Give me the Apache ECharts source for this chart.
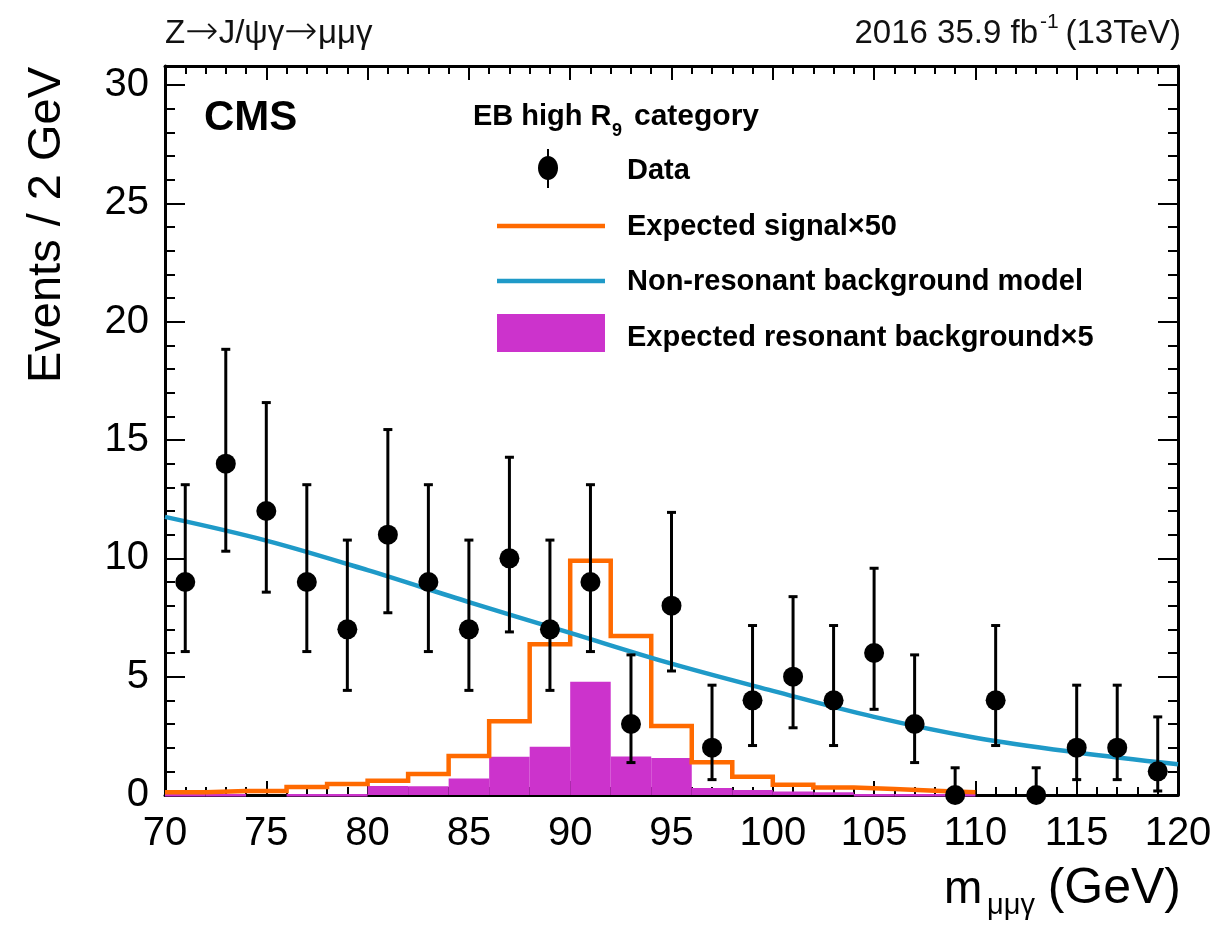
<!DOCTYPE html>
<html><head><meta charset="utf-8">
<script src="https://cdn.jsdelivr.net/npm/echarts@6/dist/echarts.min.js"></script>
<style>html,body{margin:0;padding:0;background:#fff}#c{width:1220px;height:929px}</style>
</head><body><div id="c"></div>
<script>
// ---- data ----
const binCenters = [71,73,75,77,79,81,83,85,87,89,91,93,95,97,99,101,103,105,107,109,111,113,115,117,119];
const dataCounts = [9,14,12,9,7,11,9,7,10,7,9,3,8,2,4,5,4,6,3,0,4,0,2,2,1];
const errLow  = [6.06,10.3,8.57,6.06,4.42,7.7,6.06,4.42,6.89,4.42,6.06,1.37,5.24,0.65,2.09,2.84,2.09,3.62,1.37,0,2.09,0,0.65,0.65,0.17];
const errHigh = [13.11,18.83,16.58,13.11,10.77,15.44,13.11,10.77,14.27,10.77,13.11,5.92,11.94,4.64,7.16,8.38,7.16,9.58,5.92,1.15,7.16,1.15,4.64,4.64,3.3];

const histLow  = [70,72,74,76,78,80,82,84,86,88,90,92,94,96,98,100,102,104,106,108];
const histHigh = [72,74,76,78,80,82,84,86,88,90,92,94,96,98,100,102,104,106,108,110];
const signalX50   = [0.12,0.17,0.17,0.34,0.46,0.6,0.89,1.65,3.12,6.37,9.9,6.72,2.92,1.38,0.77,0.43,0.32,0.25,0.18,0.12];
const resonantX5  = [0.02,0.02,null,0.02,0.02,0.38,0.37,0.7,1.62,2.04,4.78,1.63,1.56,0.3,0.21,0.15,0.12,0.02,0.02,0.02];

const bkgX = [70,75,80,85,90,95,100,105,110,115,120];
const bkgY = [11.75,10.75,9.5,8.15,6.85,5.55,4.4,3.3,2.42,1.8,1.3];

const xTickLabels = ['70','75','80','85','90','95','100','105','110','115','120'];
const yTickLabels = ['0','5','10','15','20','25','30'];

// ---- build ----
const FONT = '"Liberation Sans", Arial, Helvetica, sans-serif';
const ORANGE = '#ff6a00', BLUE = '#1f9ac8', MAGENTA = '#cc33cc';

const signalLine = [];
histLow.forEach((lo, i) => { signalLine.push([lo, signalX50[i]]); signalLine.push([histHigh[i], signalX50[i]]); });
const resData = histLow.map((lo, i) => [lo, histHigh[i], resonantX5[i]]).filter(d => d[2] !== null);
const errData = binCenters.map((x, i) => [x, errLow[i], errHigh[i]]);
const ptsData = binCenters.map((x, i) => [x, dataCounts[i]]);
const bkgData = bkgX.map((x, i) => [x, bkgY[i]]);

const chart = echarts.init(document.getElementById('c'), null, {renderer: 'canvas'});
const axisLineStyle = {color: '#000', width: 3};
const common = {
  type: 'value', splitLine: {show: false},
  axisLine: {show: true, onZero: false, lineStyle: axisLineStyle},
};
const tickX = {inside: true, length: 14, lineStyle: {color: '#000', width: 2}};
const minorX = {show: true, splitNumber: 5, length: 8, lineStyle: {color: '#000', width: 2}};
const tickY = {inside: true, length: 20, lineStyle: {color: '#000', width: 2}};
const minorY = {show: true, splitNumber: 5, length: 10, lineStyle: {color: '#000', width: 2}};
const LEG = 'bold 29px ' + FONT;
const TOP = '33px ' + FONT;

chart.setOption({
  animation: false,
  backgroundColor: '#fff',
  grid: {left: 165, top: 66, width: 1013, height: 729, containLabel: false},
  xAxis: [
    Object.assign({}, common, {
      position: 'bottom', min: 70, max: 120, interval: 5, axisTick: tickX, minorTick: minorX,
      axisLabel: {margin: 19, fontSize: 40, color: '#000', fontFamily: FONT,
        formatter: v => (xTickLabels.indexOf(String(v)) >= 0 ? String(v) : '')}
    }),
    Object.assign({}, common, {
      position: 'top', min: 70, max: 120, interval: 5, axisTick: tickX, minorTick: minorX,
      axisLabel: {show: false}
    })
  ],
  yAxis: [
    Object.assign({}, common, {
      position: 'left', min: 0, max: 30.8, interval: 5, axisTick: tickY, minorTick: minorY,
      axisLabel: {margin: 16, fontSize: 40, color: '#000', fontFamily: FONT, showMaxLabel: false,
        formatter: v => (yTickLabels.indexOf(String(v)) >= 0 ? String(v) : '')}
    }),
    Object.assign({}, common, {
      position: 'right', min: 0, max: 30.8, interval: 5, axisTick: tickY, minorTick: minorY,
      axisLabel: {show: false}
    })
  ],
  series: [
    {
      type: 'custom', name: 'Expected resonant background×5', data: resData, z: 2,
      renderItem: (params, api) => {
        const p1 = api.coord([api.value(0), api.value(2)]);
        const p2 = api.coord([api.value(1), 0]);
        let h = p2[1] - p1[1];
        let y = p1[1];
        if (h < 2) { y = p2[1] - 1; h = 2.5; }
        return {type: 'rect', shape: {x: p1[0], y: y, width: p2[0] - p1[0], height: h},
                style: {fill: MAGENTA}};
      },
      encode: {x: [0, 1], y: 2}
    },
    {
      type: 'line', name: 'Expected signal×50', data: signalLine, showSymbol: false, z: 3,
      lineStyle: {color: ORANGE, width: 4.5, join: 'miter'}, emphasis: {disabled: true}
    },
    {
      type: 'line', name: 'Non-resonant background model', data: bkgData, smooth: 0.35, showSymbol: false, z: 4,
      lineStyle: {color: BLUE, width: 4.5}, emphasis: {disabled: true}
    },
    {
      type: 'custom', name: 'Data errors', data: errData, z: 5, clip: false,
      renderItem: (params, api) => {
        const x = api.value(0);
        const a = api.coord([x, api.value(1)]);
        const b = api.coord([x, api.value(2)]);
        const st = {stroke: '#000', lineWidth: 3};
        return {type: 'group', children: [
          {type: 'line', shape: {x1: a[0], y1: a[1], x2: b[0], y2: b[1]}, style: st},
          {type: 'line', shape: {x1: a[0] - 4.5, y1: a[1], x2: a[0] + 4.5, y2: a[1]}, style: st},
          {type: 'line', shape: {x1: b[0] - 4.5, y1: b[1], x2: b[0] + 4.5, y2: b[1]}, style: st}
        ]};
      },
      encode: {x: 0, y: [1, 2]}
    },
    {
      type: 'scatter', name: 'Data', data: ptsData, symbol: 'circle', symbolSize: 20, z: 6, clip: false,
      itemStyle: {color: '#000', opacity: 1}, emphasis: {disabled: true}
    }
  ],
  graphic: [
    {type: 'text', x: 165, y: 34, style: {
      text: '{a|Z}{r|→}{a|J/ψγ}{r|→}{a|μμγ}', align: 'left', verticalAlign: 'middle',
      rich: {a: {font: TOP, fill: '#111'}, r: {font: '200 40px "DejaVu Sans", sans-serif', fill: '#111'}}}},
    {type: 'text', x: 1038, y: 34, style: {text: '2016 35.9 fb', font: TOP, fill: '#111', align: 'right', verticalAlign: 'middle'}},
    {type: 'text', x: 1040, y: 22, style: {text: '-1', font: '21px ' + FONT, fill: '#111', align: 'left', verticalAlign: 'middle'}},
    {type: 'text', x: 1181, y: 34, style: {text: '(13TeV)', font: TOP, fill: '#111', align: 'right', verticalAlign: 'middle'}},

    {type: 'text', x: 204, y: 118, style: {text: 'CMS', font: 'bold 42px ' + FONT, fill: '#000', verticalAlign: 'middle'}},

    {type: 'text', x: 473, y: 117, style: {text: 'EB high R', font: LEG, fill: '#000', verticalAlign: 'middle'}},
    {type: 'text', x: 612, y: 131, style: {text: '9', font: 'bold 18px ' + FONT, fill: '#000', verticalAlign: 'middle'}},
    {type: 'text', x: 634, y: 117, style: {text: 'category', font: 'bold 30px ' + FONT, fill: '#000', verticalAlign: 'middle'}},

    {type: 'line', shape: {x1: 548, y1: 149, x2: 548, y2: 188}, style: {stroke: '#000', lineWidth: 2}},
    {type: 'ellipse', shape: {cx: 548, cy: 168, rx: 10, ry: 12}, style: {fill: '#000'}},
    {type: 'text', x: 627, y: 171, style: {text: 'Data', font: LEG, fill: '#000', verticalAlign: 'middle'}},

    {type: 'line', shape: {x1: 497, y1: 226, x2: 605, y2: 226}, style: {stroke: ORANGE, lineWidth: 4.5}},
    {type: 'text', x: 627, y: 227, style: {text: 'Expected signal×50', font: LEG, fill: '#000', verticalAlign: 'middle'}},

    {type: 'line', shape: {x1: 497, y1: 281, x2: 605, y2: 281}, style: {stroke: BLUE, lineWidth: 4.5}},
    {type: 'text', x: 627, y: 282, style: {text: 'Non-resonant background model', font: LEG, fill: '#000', verticalAlign: 'middle'}},

    {type: 'rect', shape: {x: 497, y: 314, width: 108, height: 38}, style: {fill: MAGENTA}},
    {type: 'text', x: 627, y: 338, style: {text: 'Expected resonant background×5', font: LEG, fill: '#000', verticalAlign: 'middle'}},

    {type: 'text', x: 47, y: 225, rotation: Math.PI / 2, style: {text: 'Events / 2 GeV', font: '47px ' + FONT, fill: '#000', align: 'center', verticalAlign: 'middle'}},

    {type: 'text', x: 944, y: 890, style: {text: 'm', font: '46px ' + FONT, fill: '#000', align: 'left', verticalAlign: 'middle'}},
    {type: 'text', x: 987, y: 906, style: {text: 'μμγ', font: '29px ' + FONT, fill: '#000', align: 'left', verticalAlign: 'middle'}},
    {type: 'text', x: 1181, y: 889, style: {text: '(GeV)', font: '50px ' + FONT, fill: '#000', align: 'right', verticalAlign: 'middle'}}
  ]
});
</script>
</body></html>
